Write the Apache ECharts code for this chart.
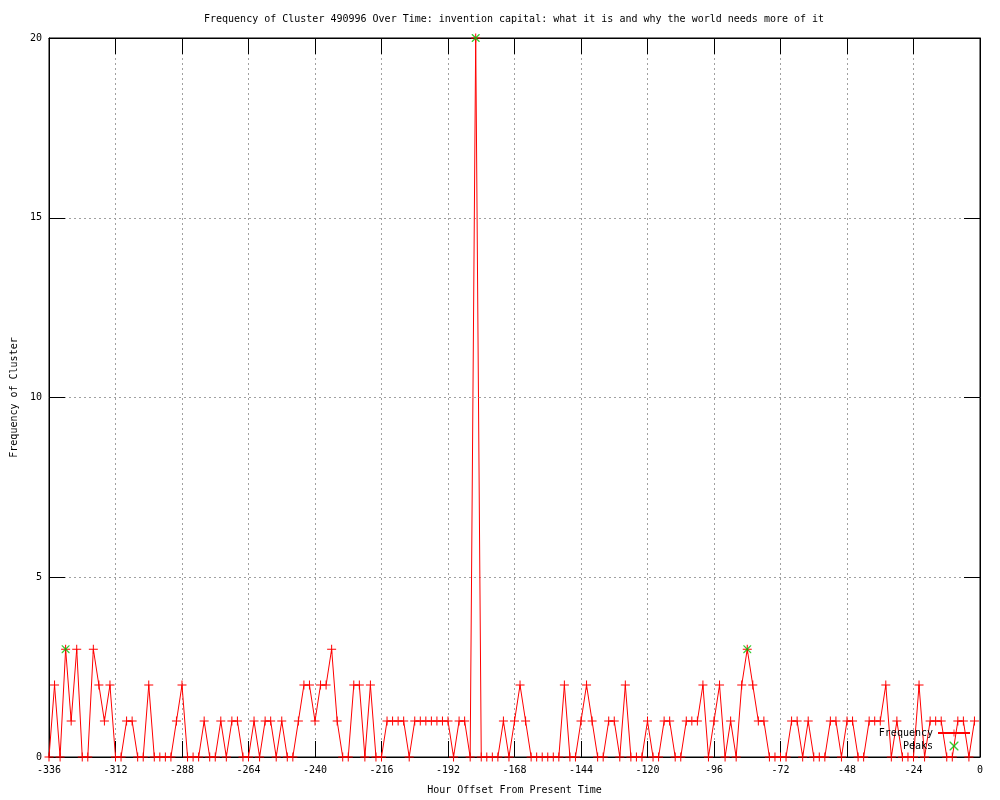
<!DOCTYPE html>
<html>
<head>
<meta charset="utf-8">
<script src="https://cdn.jsdelivr.net/npm/echarts@6/dist/echarts.min.js"></script>
<style>
html,body{margin:0;padding:0;background:#fff;}
#chart{width:1000px;height:800px;}
</style>
</head>
<body>
<div id="chart"></div>
<script>
var hours = [
-336,-334,-332,-330,-328,-326,-324,-322,-320,-318,-316,-314,
-312,-310,-308,-306,-304,-302,-300,-298,-296,-294,-292,-290,
-288,-286,-284,-282,-280,-278,-276,-274,-272,-270,-268,-266,
-264,-262,-260,-258,-256,-254,-252,-250,-248,-246,-244,-242,
-240,-238,-236,-234,-232,-230,-228,-226,-224,-222,-220,-218,
-216,-214,-212,-210,-208,-206,-204,-202,-200,-198,-196,-194,
-192,-190,-188,-186,-184,-182,-180,-178,-176,-174,-172,-170,
-168,-166,-164,-162,-160,-158,-156,-154,-152,-150,-148,-146,
-144,-142,-140,-138,-136,-134,-132,-130,-128,-126,-124,-122,
-120,-118,-116,-114,-112,-110,-108,-106,-104,-102,-100,-98,
-96,-94,-92,-90,-88,-86,-84,-82,-80,-78,-76,-74,
-72,-70,-68,-66,-64,-62,-60,-58,-56,-54,-52,-50,
-48,-46,-44,-42,-40,-38,-36,-34,-32,-30,-28,-26,
-24,-22,-20,-18,-16,-14,-12,-10,-8,-6,-4,-2
];
var frequency = [
0,2,0,3,1,3, 0,0,3,2,1,2,
0,0,1,1,0,0, 2,0,0,0,0,1,
2,0,0,0,1,0, 0,1,0,1,1,0,
0,1,0,1,1,0, 1,0,0,1,2,2,
1,2,2,3,1,0, 0,2,2,0,2,0,
0,1,1,1,1,0, 1,1,1,1,1,1,
1,0,1,1,0,20, 0,0,0,0,1,0,
1,2,1,0,0,0, 0,0,0,2,0,0,
1,2,1,0,0,1, 1,0,2,0,0,0,
1,0,0,1,1,0, 0,1,1,1,2,0,
1,2,0,1,0,2, 3,2,1,1,0,0,
0,0,1,1,0,1, 0,0,0,1,1,0,
1,1,0,0,1,1, 1,2,0,1,0,0,
0,2,0,1,1,1, 0,0,1,1,0,1
];
var peakHours = [-330, -182, -84];
var peakValues = [3, 20, 3];
var xTicks = {min: -336, max: 0, interval: 24};
var yTicks = {min: 0, max: 20, interval: 5};

var FONT = 'DejaVu Sans Mono';
var plusPath = 'path://M4,0 L5,0 L5,4 L9,4 L9,5 L5,5 L5,9 L4,9 L4,5 L0,5 L0,4 L4,4 Z';
var crossPath = 'path://M0,0 L1,0 L4.5,3.5 L8,0 L9,0 L9,1 L5.5,4.5 L9,8 L9,9 L8,9 L4.5,5.5 L1,9 L0,9 L0,8 L3.5,4.5 L0,1 Z';

var freqData = hours.map(function(h, i){ return [h, frequency[i]]; });
var peakData = peakHours.map(function(h, i){ return [h, peakValues[i]]; });

var chart = echarts.init(document.getElementById('chart'), null, {renderer: 'canvas'});
var tickStyle = {show: true, inside: true, length: 16, lineStyle: {color: '#000', width: 1}};
var gridLine = {show: true, lineStyle: {color: '#a0a0a0', width: 1, type: [2, 3]}};
var titleText = 'Frequency of Cluster 490996 Over Time: invention capital: what it is and why the world needs more of it';
chart.setOption({
  animation: false,
  backgroundColor: '#fff',
  title: {
    text: titleText,
    left: 204, top: 14, padding: 0,
    textStyle: {fontFamily: FONT, fontSize: 10, fontWeight: 'normal', color: '#000'}
  },
  grid: {left: 49, right: 20, top: 38, bottom: 40, show: true, borderColor: '#000', borderWidth: 1, backgroundColor: 'transparent'},
  legend: {
    orient: 'vertical', right: 24, top: 723, align: 'right',
    itemWidth: 32, itemHeight: 9, itemGap: 3,
    textStyle: {fontFamily: FONT, fontSize: 10, color: '#000'},
    data: ['Frequency', 'Peaks']
  },
  xAxis: [{
    type: 'value', min: xTicks.min, max: xTicks.max, interval: xTicks.interval,
    position: 'bottom',
    name: 'Hour Offset From Present Time', nameLocation: 'middle', nameGap: 28,
    nameTextStyle: {fontFamily: FONT, fontSize: 10, color: '#000'},
    axisLine: {show: true, onZero: false, lineStyle: {color: '#000', width: 1}},
    axisTick: tickStyle,
    axisLabel: {fontFamily: FONT, fontSize: 10, color: '#000', margin: 8},
    splitLine: gridLine
  }, {
    type: 'value', min: xTicks.min, max: xTicks.max, interval: xTicks.interval,
    position: 'top',
    axisLine: {show: true, onZero: false, lineStyle: {color: '#000', width: 1}},
    axisTick: tickStyle,
    axisLabel: {show: false},
    splitLine: {show: false}
  }],
  yAxis: [{
    type: 'value', min: yTicks.min, max: yTicks.max, interval: yTicks.interval,
    position: 'left',
    name: 'Frequency of Cluster', nameLocation: 'middle', nameGap: 30, nameRotate: 90,
    nameTextStyle: {fontFamily: FONT, fontSize: 10, color: '#000'},
    axisLine: {show: true, onZero: false, lineStyle: {color: '#000', width: 1}},
    axisTick: tickStyle,
    axisLabel: {fontFamily: FONT, fontSize: 10, color: '#000', margin: 7},
    splitLine: gridLine
  }, {
    type: 'value', min: yTicks.min, max: yTicks.max, interval: yTicks.interval,
    position: 'right',
    axisLine: {show: true, onZero: false, lineStyle: {color: '#000', width: 1}},
    axisTick: tickStyle,
    axisLabel: {show: false},
    splitLine: {show: false}
  }],
  series: [{
    name: 'Frequency', type: 'line', xAxisIndex: 0, yAxisIndex: 0,
    data: freqData, clip: false,
    symbol: plusPath, symbolSize: 9, showSymbol: true, showAllSymbol: true,
    lineStyle: {color: '#ff0000', width: 1},
    itemStyle: {color: '#ff0000'},
    emphasis: {disabled: true},
    z: 2
  }, {
    name: 'Peaks', type: 'scatter', xAxisIndex: 0, yAxisIndex: 0,
    data: peakData, clip: false,
    symbol: crossPath, symbolSize: 8,
    itemStyle: {color: '#00c000'},
    emphasis: {disabled: true},
    z: 3
  }]
});
</script>
</body>
</html>
